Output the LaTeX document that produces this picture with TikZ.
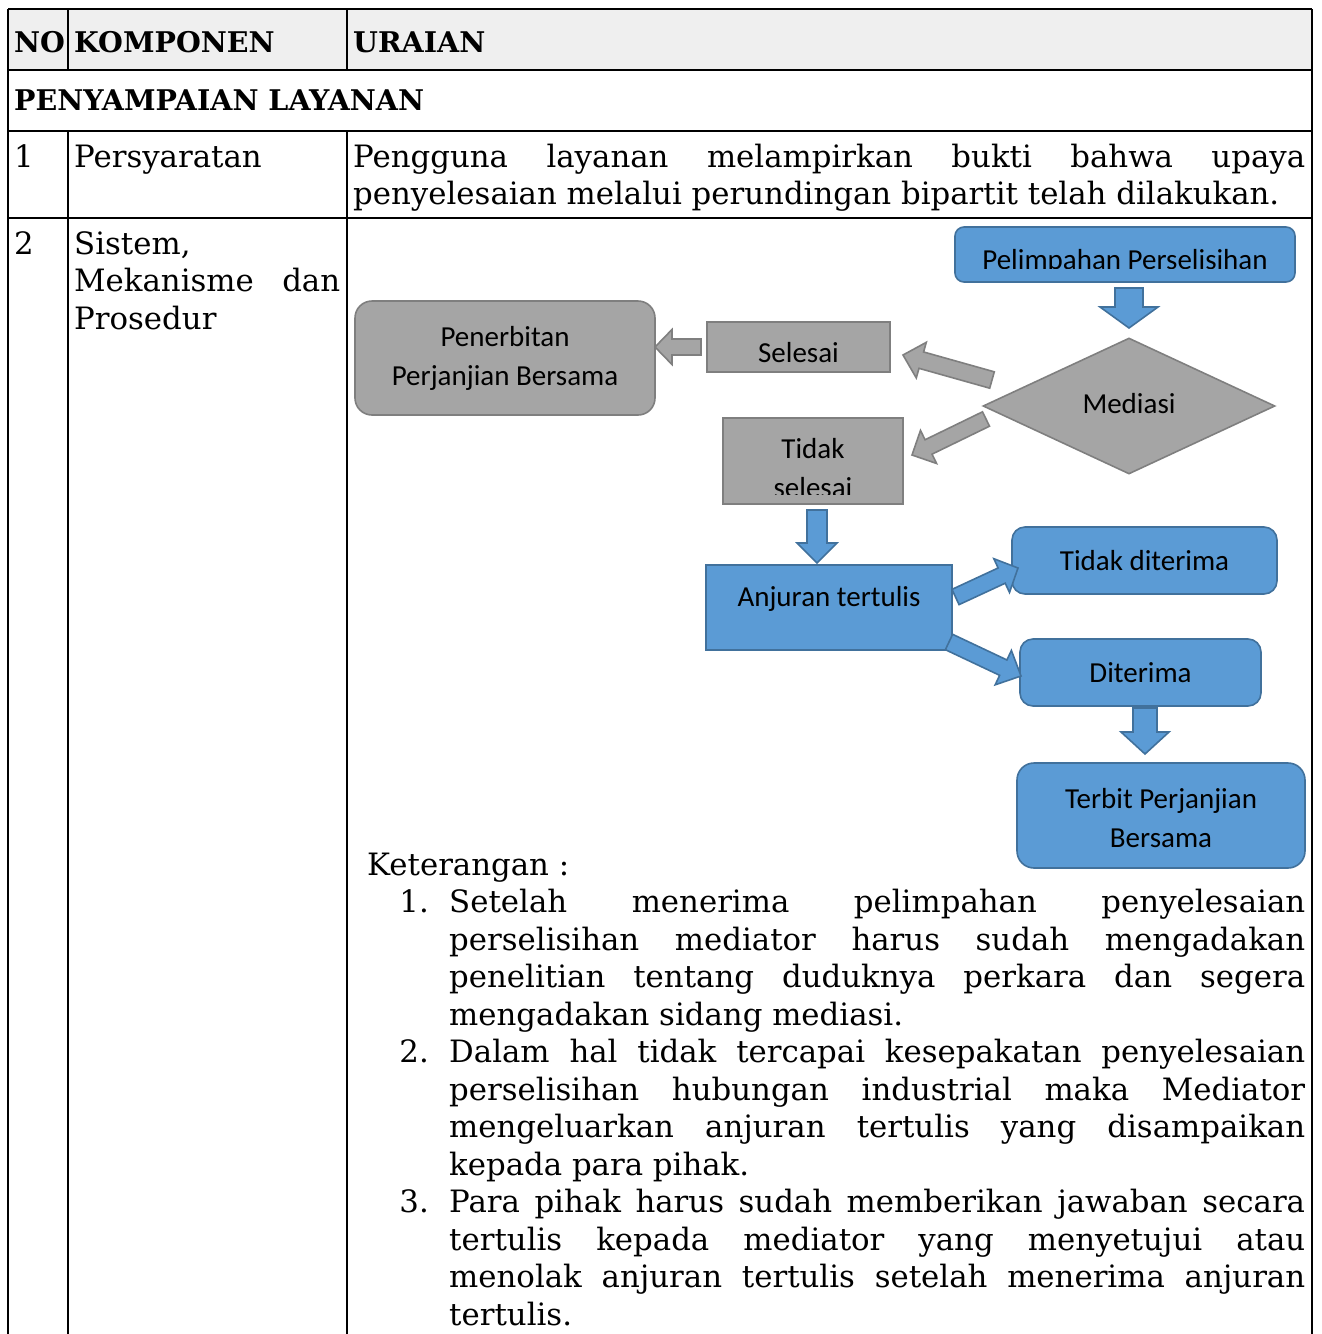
\documentclass[tikz,border=0pt]{standalone}
\usepackage{fontspec}
\setmainfont{DejaVu Serif}
\newfontfamily\diag{Carlito}
\usetikzlibrary{calc,shapes.geometric}
\definecolor{bfill}{HTML}{5B9BD5}
\definecolor{bline}{HTML}{41719C}
\definecolor{gfill}{HTML}{A5A5A5}
\definecolor{gline}{HTML}{7F7F7F}
\definecolor{hdr}{HTML}{EFEFEF}
% block arrow: style, tail, tip, shaft half width, head half width, head length
\newcommand\blockarrow[6]{%
  \coordinate (bahead) at ($(#3)!#6!(#2)$);
  \draw[#1] ($(#2)!#4!90:(#3)$) -- ($(bahead)!#4!90:(#3)$) -- ($(bahead)!#5!90:(#3)$)
    -- (#3) -- ($(bahead)!#5!-90:(#3)$) -- ($(bahead)!#4!-90:(#3)$) -- ($(#2)!#4!-90:(#3)$) -- cycle;
}
\begin{document}
\begin{tikzpicture}[x=1pt,y=-1pt,
  tline/.style={line width=2.4pt, black},
  tx/.style={anchor=base west, inner sep=0pt, font=\fontsize{30.8}{37.5}\selectfont},
  txb/.style={anchor=base west, inner sep=0pt, font=\bfseries\fontsize{28.5}{37.5}\selectfont},
  num/.style={anchor=base east, inner sep=0pt, font=\fontsize{30.8}{37.5}\selectfont},
  bluebox/.style={draw=bline, fill=bfill, line width=1.6pt, inner sep=0pt},
  graybox/.style={draw=gline, fill=gfill, line width=1.6pt, inner sep=0pt},
  dtext/.style={anchor=base, inner sep=0pt, font=\diag\fontsize{29}{39}\selectfont},
  barb/.style={draw=bline, fill=bfill, line width=1.6pt, line join=miter},
  barg/.style={draw=gline, fill=gfill, line width=1.6pt, line join=miter},
]
\useasboundingbox (0,0) rectangle (1322,1334);
\begin{scope}
\clip (0,0) rectangle (1322,1334);
% ---------- table ----------
\fill[hdr] (8,9) rectangle (1312,70);
\draw[tline] (8,9) -- (1312,9);
\draw[tline] (8,70) -- (1312,70);
\draw[tline] (8,131) -- (1312,131);
\draw[tline] (8,218) -- (1312,218);
\draw[tline] (8,9) -- (8,1340);
\draw[tline] (1312,9) -- (1312,1340);
\draw[tline] (68,9) -- (68,70);
\draw[tline] (347,9) -- (347,70);
\draw[tline] (68,131) -- (68,1340);
\draw[tline] (347,131) -- (347,1340);
\end{scope}

\node[txb] (hno) at (14,52) {NO};
\node[txb] (hkomp) at (74,52) {KOMPONEN};
\node[txb] (hur) at (353,52) {URAIAN};
\node[txb] (hsec) at (14,110.5) {PENYAMPAIAN LAYANAN};

\node[tx] (n1) at (14,167) {1};
\node[tx] (k1) at (74,167) {Persyaratan};
\node[tx] (u1) at (353,167) {\parbox[t]{952pt}{Pengguna layanan melampirkan bukti bahwa upaya\linebreak penyelesaian melalui perundingan bipartit telah dilakukan.}};

\node[tx] (n2) at (14,254) {2};
\node[tx] (k2a) at (74,254) {Sistem,};
\node[tx] (k2b) at (74,291.5) {\makebox[266pt][s]{Mekanisme dan}};
\node[tx] (k2c) at (74,329) {Prosedur};

% ---------- diagram boxes ----------
\node[bluebox, rounded corners=9pt, minimum width=340pt, minimum height=55pt] (pel) at (1125,254.5) {};
\node[graybox, diamond, minimum width=292pt, minimum height=136pt] (med) at (1129,406) {};
\node[graybox, minimum width=183pt, minimum height=50pt] (sel) at (798.5,347) {};
\node[graybox, rounded corners=17pt, minimum width=300pt, minimum height=114pt] (pen) at (505,358) {};
\node[graybox, minimum width=180pt, minimum height=86pt] (tid) at (813,461) {};
\node[bluebox, minimum width=246pt, minimum height=85pt] (anj) at (829,607.5) {};
\node[bluebox, rounded corners=13pt, minimum width=265pt, minimum height=67pt] (tdt) at (1144.5,560.5) {};
\node[bluebox, rounded corners=13pt, minimum width=241pt, minimum height=67pt] (dit) at (1140.5,672.5) {};
\node[bluebox, rounded corners=17pt, minimum width=288pt, minimum height=105pt] (ter) at (1161,815.5) {};

% ---------- diagram texts ----------
\begin{scope}
\clip (955,227) rectangle (1295,268.5);
\node[dtext] (pelt) at (1125,269.5) {Pelimpahan Perselisihan};
\end{scope}
\node[dtext] (medt) at (1129,413) {Mediasi};
\node[dtext] (selt) at (798.5,362) {Selesai};
\node[dtext] (pent1) at (505,346) {Penerbitan};
\node[dtext] (pent2) at (505,385) {Perjanjian Bersama};
\begin{scope}
\clip (723,418) rectangle (903,494);
\node[dtext] (tidt1) at (813,458) {Tidak};
\node[dtext] (tidt2) at (813,497) {selesai};
\end{scope}
\node[dtext] (anjt) at (829,606) {Anjuran tertulis};
\node[dtext] (tdtt) at (1144.5,570) {Tidak diterima};
\node[dtext] (ditt) at (1140.5,682) {Diterima};
\node[dtext] (tert1) at (1161,808) {Terbit Perjanjian};
\node[dtext] (tert2) at (1161,847) {Bersama};

% ---------- block arrows ----------
\coordinate (a1s) at (1129,288);   \coordinate (a1e) at (1129,328);
\coordinate (a2s) at (992,380);    \coordinate (a2e) at (903,355);
\coordinate (a3s) at (986,419);    \coordinate (a3e) at (912,455);
\coordinate (a4s) at (701,347);    \coordinate (a4e) at (655,347);
\coordinate (a5s) at (817,510);    \coordinate (a5e) at (817,563);
\coordinate (a6s) at (955.5,597);  \coordinate (a6e) at (1018,568);
\coordinate (a7s) at (949,642);    \coordinate (a7e) at (1021,676);
\coordinate (a8s) at (1145,708);   \coordinate (a8e) at (1145,754);
\blockarrow{barb}{a1s}{a1e}{14pt}{29pt}{21pt}
\blockarrow{barg}{a2s}{a2e}{8.5pt}{18.5pt}{19pt}
\blockarrow{barg}{a3s}{a3e}{8pt}{18.4pt}{18.4pt}
\blockarrow{barg}{a4s}{a4e}{8pt}{17.5pt}{17pt}
\blockarrow{barb}{a5s}{a5e}{10pt}{20pt}{20pt}
\blockarrow{barb}{a6s}{a6e}{8.4pt}{18.6pt}{18pt}
\blockarrow{barb}{a7s}{a7e}{8.5pt}{19pt}{19.6pt}
\blockarrow{barb}{a8s}{a8e}{12pt}{24pt}{22pt}

% ---------- keterangan ----------
\node[tx] (ket) at (367,875) {Keterangan :};
\node[num] (l1) at (429,912.5) {1.};
\node[tx] (i1) at (449,912.5) {\parbox[t]{856pt}{Setelah menerima pelimpahan penyelesaian\linebreak perselisihan mediator harus sudah mengadakan\linebreak penelitian tentang duduknya perkara dan segera\linebreak mengadakan sidang mediasi.}};
\node[num] (l2) at (429,1062.5) {2.};
\node[tx] (i2) at (449,1062.5) {\parbox[t]{856pt}{Dalam hal tidak tercapai kesepakatan penyelesaian\linebreak perselisihan hubungan industrial maka Mediator\linebreak mengeluarkan anjuran tertulis yang disampaikan\linebreak kepada para pihak.}};
\node[num] (l3) at (429,1212.5) {3.};
\node[tx] (i3) at (449,1212.5) {\parbox[t]{856pt}{Para pihak harus sudah memberikan jawaban secara\linebreak tertulis kepada mediator yang menyetujui atau\linebreak menolak anjuran tertulis setelah menerima anjuran\linebreak tertulis.}};
\end{tikzpicture}
\end{document}
